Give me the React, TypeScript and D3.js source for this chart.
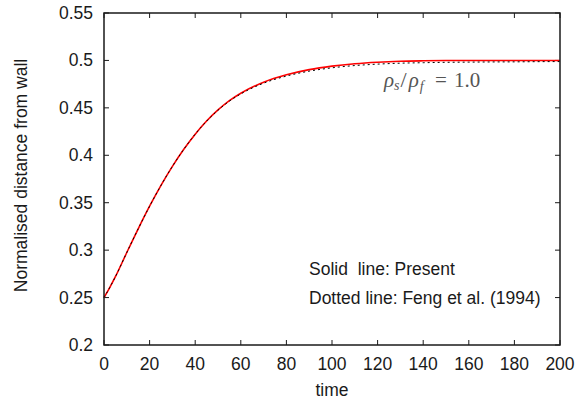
import React from "react";
import * as d3 from "d3";

const times = [0, 2.5, 5, 10, 15, 20, 25, 30, 35, 40, 45, 50, 55, 60, 70, 80, 90, 100, 110, 120, 130, 140, 150, 160, 170, 180, 190, 200];
const present = [0.25, 0.2605, 0.272, 0.2975, 0.3225, 0.3463, 0.3683, 0.3883, 0.4063, 0.4223, 0.4361, 0.4478, 0.4576, 0.4654, 0.477, 0.4848, 0.4903, 0.494, 0.4965, 0.4981, 0.4991, 0.4996, 0.4999, 0.5, 0.5, 0.5, 0.5, 0.5];
const feng = [0.25, 0.2605, 0.272, 0.2975, 0.3225, 0.3463, 0.3683, 0.3883, 0.4063, 0.4223, 0.436, 0.4475, 0.4571, 0.4647, 0.476, 0.4835, 0.4887, 0.4922, 0.4946, 0.4961, 0.4971, 0.4976, 0.498, 0.4982, 0.4984, 0.4985, 0.4987, 0.4988];
const xTicks = [0, 20, 40, 60, 80, 100, 120, 140, 160, 180, 200];
const yTicks = [0.2, 0.25, 0.3, 0.35, 0.4, 0.45, 0.5, 0.55];

const W = 576, H = 403;
const L = 104, R = 560, T = 13, B = 345;
const font = "'Liberation Sans', Arial, sans-serif";
const serif = "'Liberation Serif', 'DejaVu Serif', serif";
const ink = "#1a1a1a";

export default function App() {
  const x = d3.scaleLinear().domain([0, 200]).range([L, R]);
  const y = d3.scaleLinear().domain([0.2, 0.55]).range([B, T]);
  const line = d3.line<number>().x((_, i) => x(times[i])).y((d) => y(d)).curve(d3.curveMonotoneX);
  const tk = 5;
  return (
    <svg width={W} height={H} style={{ position: "absolute", left: 0, top: 0, background: "#fff" }}>
      <rect x={0} y={0} width={W} height={H} fill="#fff" />
      {xTicks.map((t) => (
        <g key={"x" + t}>
          <line x1={x(t)} x2={x(t)} y1={B} y2={B - tk} stroke={ink} strokeWidth={1} />
          <line x1={x(t)} x2={x(t)} y1={T} y2={T + tk} stroke={ink} strokeWidth={1} />
          <text x={x(t)} y={370} textAnchor="middle" fontFamily={font} fontSize={17.5} fill={ink}>{t}</text>
        </g>
      ))}
      {yTicks.map((t) => (
        <g key={"y" + t}>
          <line x1={L} x2={L + tk} y1={y(t)} y2={y(t)} stroke={ink} strokeWidth={1} />
          <line x1={R} x2={R - tk} y1={y(t)} y2={y(t)} stroke={ink} strokeWidth={1} />
          <text x={93} y={y(t) + 6} textAnchor="end" fontFamily={font} fontSize={17.5} fill={ink}>{String(t)}</text>
        </g>
      ))}
      <path d={line(present) || ""} fill="none" stroke="#f00" strokeWidth={1.6} />
      <path d={line(feng) || ""} fill="none" stroke="#000" strokeWidth={1} strokeDasharray="2,3" />
      <rect x={L} y={T} width={R - L} height={B - T} fill="none" stroke={ink} strokeWidth={1.5} />
      <text y={87} fontFamily={serif} fontSize={21} fill="#555">
        <tspan x={384} fontStyle="italic">ρ</tspan>
        <tspan fontStyle="italic" fontSize={14} dy={3}>s</tspan>
        <tspan dy={-3} dx={1} fontSize={22}>/</tspan>
        <tspan fontStyle="italic" dx={2}>ρ</tspan>
        <tspan fontStyle="italic" fontSize={14} dy={4} dx={1}>f</tspan>
        <tspan x={435} dy={-4}>=</tspan>
        <tspan x={454}>1.0</tspan>
      </text>
      <text x={309} y={275} fontFamily={font} fontSize={17.5} fill={ink} style={{ whiteSpace: "pre" }}>{"Solid  line: Present"}</text>
      <text x={309} y={304} fontFamily={font} fontSize={17.5} fill={ink}>Dotted line: Feng et al. (1994)</text>
      <text x={332} y={396} textAnchor="middle" fontFamily={font} fontSize={17.5} fill={ink}>time</text>
      <text transform={`translate(27,175.5) rotate(-90)`} textAnchor="middle" fontFamily={font} fontSize={17.5} fill={ink}>Normalised distance from wall</text>
    </svg>
  );
}
